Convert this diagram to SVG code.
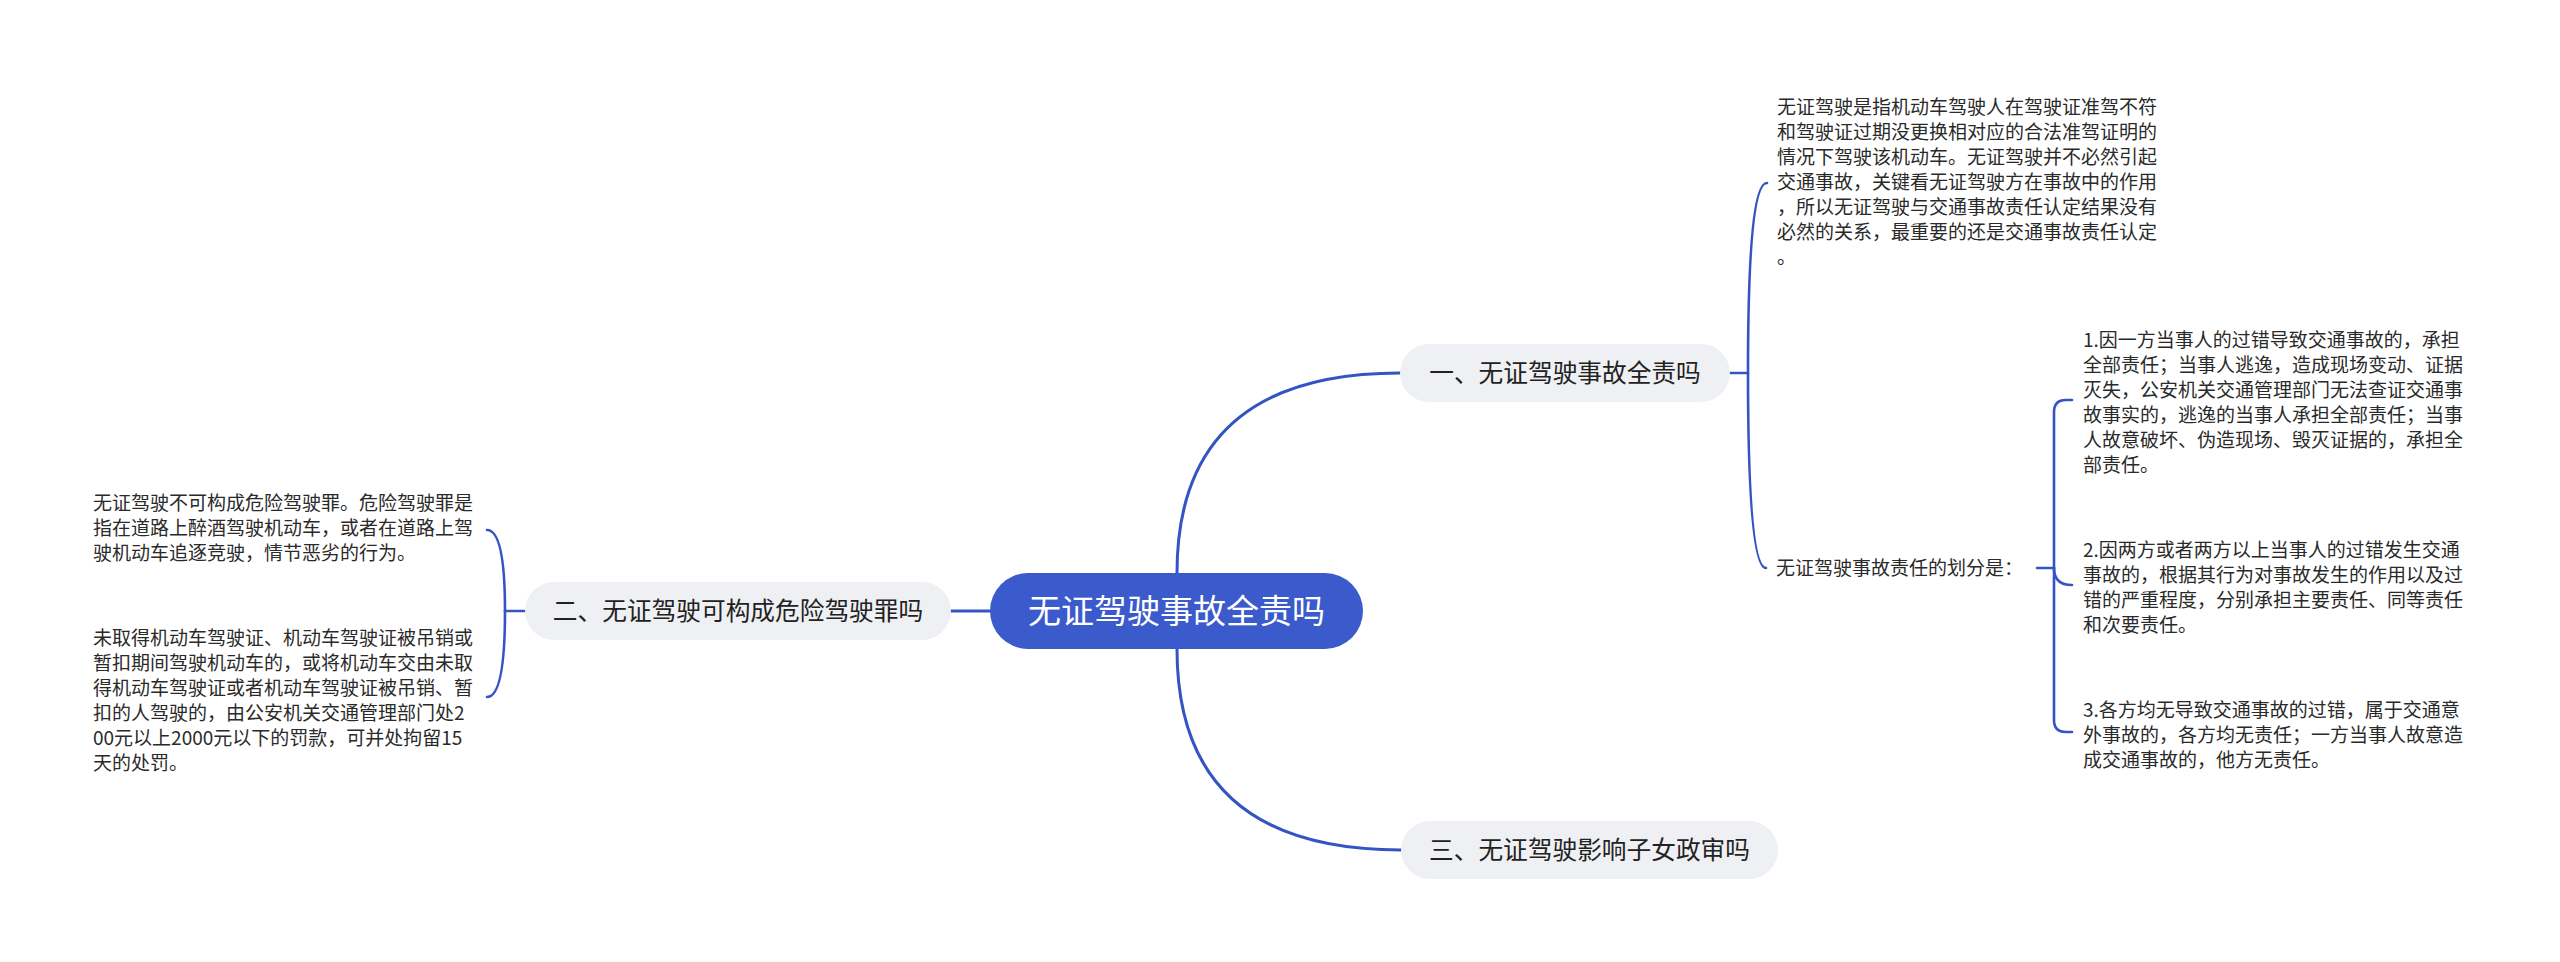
<svg xmlns="http://www.w3.org/2000/svg" width="2560" height="962" viewBox="0 0 2560 962">
<style>
.conn{fill:none;stroke:#3454c4;stroke-width:3;stroke-linecap:round}
.br{fill:none;stroke:#3454c4;stroke-width:2.6;stroke-linecap:round}
.pill{fill:#eef0f3}
.root{fill:#3b5bcc}
.nt{font-family:"Noto Sans CJK SC","Noto Sans",sans-serif;font-size:24.7px;fill:#222;text-anchor:middle}
.rt{font-family:"Noto Sans CJK SC","Noto Sans",sans-serif;font-size:33px;fill:#ffffff;text-anchor:middle}
.lt{font-family:"Noto Sans CJK SC","Noto Sans",sans-serif;font-size:19px;fill:#2a2a2a}
</style>
<rect width="2560" height="962" fill="#ffffff"/>
<g id="connectors">
<path class="conn" d="M1177,573 Q1177,373 1400,373"/>
<path class="conn" d="M1177,649 Q1177,850 1401,850"/>
<path class="conn" d="M990,611 L951,611"/>
<path class="br" d="M1730,373 L1748,373"/>
<path class="br" d="M1748,373 Q1748,183 1767,183"/>
<path class="br" d="M1748,373 Q1748,568 1766,568"/>
<path class="br" d="M2037,568 L2054,568"/>
<path class="br" d="M2054,568 L2054,412 Q2054,400 2066,400 L2072,400"/>
<path class="br" d="M2054,568 Q2054,585 2072,585"/>
<path class="br" d="M2054,568 L2054,720 Q2054,732 2066,732 L2072,732"/>
<path class="br" d="M526,611 L505,611"/>
<path class="br" d="M505,611 Q505,530 487,530"/>
<path class="br" d="M505,611 Q505,697 487,697"/>
</g>
<g id="root">
<rect class="root" x="990" y="573" width="373" height="76" rx="38"/>
<text class="rt" x="1176.5" y="623">无证驾驶事故全责吗</text>
</g>
<g id="node1">
<rect class="pill" x="1400" y="344" width="330" height="58" rx="29"/>
<text class="nt" x="1565" y="382">一、无证驾驶事故全责吗</text>
</g>
<g id="node2">
<rect class="pill" x="525" y="582" width="426" height="58" rx="29"/>
<text class="nt" x="738" y="620">二、无证驾驶可构成危险驾驶罪吗</text>
</g>
<g id="node3">
<rect class="pill" x="1401" y="821" width="377" height="58" rx="29"/>
<text class="nt" x="1589.5" y="859">三、无证驾驶影响子女政审吗</text>
</g>
<g id="leaf1a">
<text class="lt" x="1777" y="114">
<tspan x="1777">无证驾驶是指机动车驾驶人在驾驶证准驾不符</tspan>
<tspan x="1777" dy="25">和驾驶证过期没更换相对应的合法准驾证明的</tspan>
<tspan x="1777" dy="25">情况下驾驶该机动车。无证驾驶并不必然引起</tspan>
<tspan x="1777" dy="25">交通事故，关键看无证驾驶方在事故中的作用</tspan>
<tspan x="1777" dy="25">，所以无证驾驶与交通事故责任认定结果没有</tspan>
<tspan x="1777" dy="25">必然的关系，最重要的还是交通事故责任认定</tspan>
<tspan x="1777" dy="25">。</tspan>
</text>
</g>
<g id="leaf1b">
<text class="lt" x="1776" y="575">无证驾驶事故责任的划分是：</text>
</g>
<g id="leaf1b1">
<text class="lt" x="2083" y="347">
<tspan x="2083">1.因一方当事人的过错导致交通事故的，承担</tspan>
<tspan x="2083" dy="25">全部责任；当事人逃逸，造成现场变动、证据</tspan>
<tspan x="2083" dy="25">灭失，公安机关交通管理部门无法查证交通事</tspan>
<tspan x="2083" dy="25">故事实的，逃逸的当事人承担全部责任；当事</tspan>
<tspan x="2083" dy="25">人故意破坏、伪造现场、毁灭证据的，承担全</tspan>
<tspan x="2083" dy="25">部责任。</tspan>
</text>
</g>
<g id="leaf1b2">
<text class="lt" x="2083" y="557">
<tspan x="2083">2.因两方或者两方以上当事人的过错发生交通</tspan>
<tspan x="2083" dy="25">事故的，根据其行为对事故发生的作用以及过</tspan>
<tspan x="2083" dy="25">错的严重程度，分别承担主要责任、同等责任</tspan>
<tspan x="2083" dy="25">和次要责任。</tspan>
</text>
</g>
<g id="leaf1b3">
<text class="lt" x="2083" y="717">
<tspan x="2083">3.各方均无导致交通事故的过错，属于交通意</tspan>
<tspan x="2083" dy="25">外事故的，各方均无责任；一方当事人故意造</tspan>
<tspan x="2083" dy="25">成交通事故的，他方无责任。</tspan>
</text>
</g>
<g id="leaf2a">
<text class="lt" x="93" y="510">
<tspan x="93">无证驾驶不可构成危险驾驶罪。危险驾驶罪是</tspan>
<tspan x="93" dy="25">指在道路上醉酒驾驶机动车，或者在道路上驾</tspan>
<tspan x="93" dy="25">驶机动车追逐竞驶，情节恶劣的行为。</tspan>
</text>
</g>
<g id="leaf2b">
<text class="lt" x="93" y="645">
<tspan x="93">未取得机动车驾驶证、机动车驾驶证被吊销或</tspan>
<tspan x="93" dy="25">暂扣期间驾驶机动车的，或将机动车交由未取</tspan>
<tspan x="93" dy="25">得机动车驾驶证或者机动车驾驶证被吊销、暂</tspan>
<tspan x="93" dy="25">扣的人驾驶的，由公安机关交通管理部门处2</tspan>
<tspan x="93" dy="25">00元以上2000元以下的罚款，可并处拘留15</tspan>
<tspan x="93" dy="25">天的处罚。</tspan>
</text>
</g>
</svg>
